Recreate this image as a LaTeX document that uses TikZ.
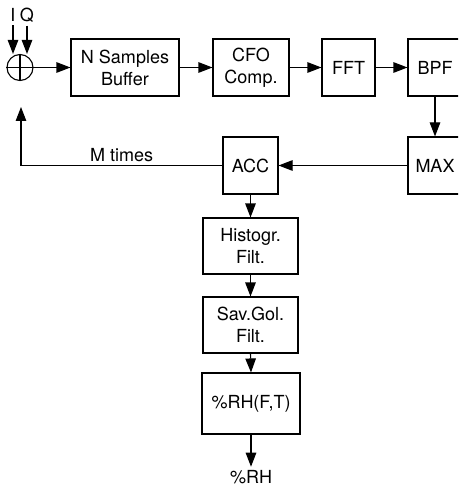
\documentclass[tikz,border=0pt]{standalone}
\usepackage{fontspec}
\setmainfont{TeX Gyre Heros}
\usetikzlibrary{
  arrows.meta,
  positioning
}

\begin{document}
\begin{tikzpicture}[
  x=1pt, y=-1pt,
  blk/.style={
    draw, line width=1.1pt, minimum height=57pt, inner sep=2pt,
    font=\fontsize{18}{22}\selectfont, align=center,
  },
  sig/.style={line width=1.1pt, -{Triangle[length=14pt, width=10.5pt]}},
  lbl/.style={font=\fontsize{18}{22}\selectfont},
]

% Page frame (right column is cut off)
\clip (0,0) rectangle (458,489);

% Inputs and summing point
\node[lbl] (iin) at (13,15) {I};
\node[lbl] (qin) at (27,15) {Q};
\node[draw, circle, line width=1.1pt, minimum size=26pt, inner sep=0pt] (sum) at (20,67.5) {};
\draw[line width=1.1pt] (sum.north) -- (sum.south) (sum.west) -- (sum.east);

% Top row
\node[blk, minimum width=108pt] (buf) at (125,67.5)   {N Samples\\Buffer};
\node[blk, minimum width=76pt]  (cfo) at (251,67.5)   {CFO\\Comp.};
\node[blk, minimum width=53pt]  (fft) at (348.5,67.5) {FFT};
\node[blk, minimum width=54pt]  (bpf) at (435,67.5)   {BPF};

% Peak search and accumulation
\node[blk, minimum width=54pt] (max) at (435,165.5)   {MAX};
\node[blk, minimum width=55pt] (acc) at (250.5,165.5) {ACC};

% Filter chain (top to bottom)
\node[blk, minimum width=95pt, minimum height=56pt] (hist) at (250.5,246)  {Histogr.\\Filt.};
\node[blk, minimum width=95pt, minimum height=56pt] (sg)   at (250.5,325)  {Sav.Gol.\\Filt.};
\node[blk, minimum width=98pt, minimum height=61pt] (rhft) at (251,403.5)  {\%RH(F,T)};
\node[lbl] (rh) at (251,477) {\%RH};

% Inputs into the summing point
\draw[sig] (iin.south) -- (iin |- sum.north);
\draw[sig] (qin.south) -- (qin |- sum.north);

% Signal path
\foreach \a/\b in {sum/buf, buf/cfo, cfo/fft, fft/bpf} {
  \draw[sig] (\a.east) -- (\b.west);
}
\draw[sig] (bpf.south) -- (max.north);
\draw[sig] (max.west) -- (acc.east);
\foreach \a/\b in {acc/hist, hist/sg, sg/rhft, rhft/rh} {
  \draw[sig] (\a.south) -- (\b.north);
}

% Feedback loop
\coordinate (back) at (21,107);
\draw[sig] (acc.west) -| node[pos=0.25, lbl, above] {M times} (back);

\end{tikzpicture}
\end{document}
